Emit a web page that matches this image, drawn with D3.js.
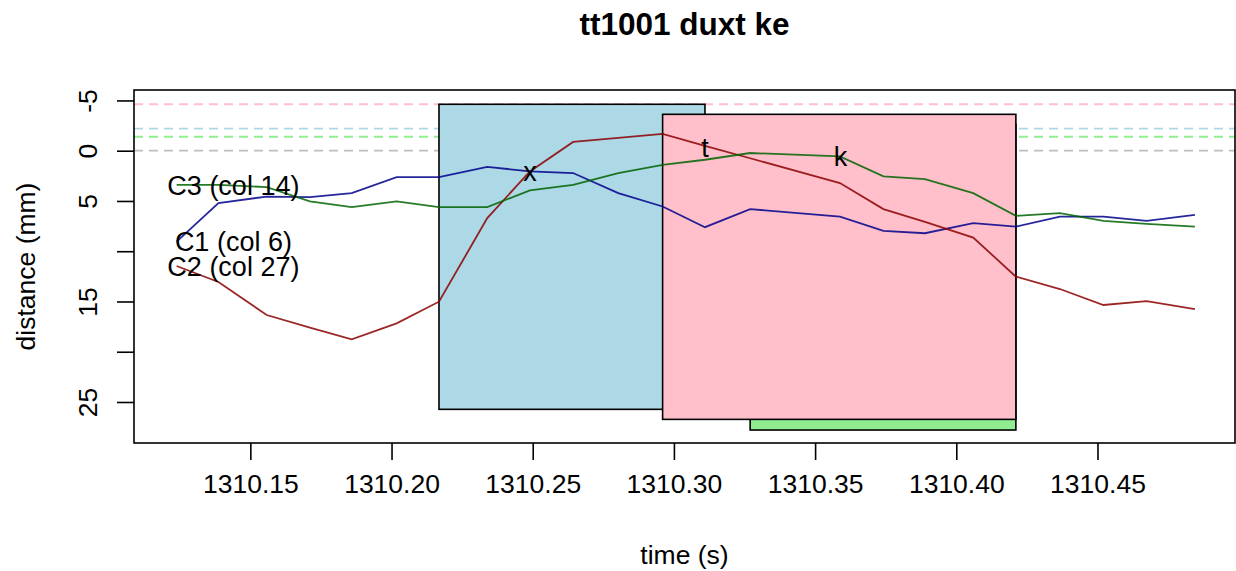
<!DOCTYPE html>
<html>
<head>
<meta charset="utf-8">
<script src="https://cdn.jsdelivr.net/npm/d3@7"></script>
<style>
  body { margin: 0; background: #fff; }
  text { font-family: "Liberation Sans", Arial, sans-serif; }
</style>
</head>
<body>
<div id="chart"></div>
<script>
// sample times (s)
const TIMES = [1310.1239, 1310.1387, 1310.1558, 1310.1711, 1310.1859, 1310.2018, 1310.2168,
  1310.2339, 1310.2490, 1310.2643, 1310.2803, 1310.2960, 1310.3110, 1310.3270, 1310.3588,
  1310.3742, 1310.3889, 1310.4060, 1310.4211, 1310.4367, 1310.4521, 1310.4674, 1310.4845];

// distances (mm)
const C1 = [9.04, 5.21, 4.56, 4.62, 4.22, 2.62, 2.62, 1.60, 2.06, 2.22, 4.22, 5.55,
  7.61, 5.81, 6.55, 7.98, 8.21, 7.21, 7.55, 6.55, 6.55, 6.98, 6.38];
const C2 = [11.47, 13.06, 16.35, 17.60, 18.77, 17.18, 15.02, 6.71, 2.06, -0.87, -1.27, -1.67,
  -0.47, 0.75, 3.22, 5.81, 7.08, 8.64, 12.53, 13.76, 15.35, 14.96, 15.75];
const C3 = [3.39, 3.39, 3.62, 5.05, 5.61, 5.05, 5.61, 5.61, 3.94, 3.39, 2.22, 1.40,
  0.90, 0.23, 0.57, 2.56, 2.82, 4.22, 6.48, 6.21, 6.98, 7.28, 7.55];

const SERIES_NAMES = ["C1 (col 6)", "C2 (col 27)", "C3 (col 14)"];
const SERIES_COLORS = ["#00008B", "#8B0000", "#006400"];
const LABEL_TIME = 1310.144;

// reference lines
const HLINE_VALUES = [-4.62, -2.19, -1.39, 0];
const HLINE_COLORS = ["#FFC0CB", "#ADD8E6", "#90EE90", "#BEBEBE"];

// interval boxes: [t0, t1, top, bottom]
const BOX_T0 = [1310.3270, 1310.2168, 1310.2960];
const BOX_T1 = [1310.4211, 1310.3110, 1310.4211];
const BOX_TOP = [-2.62, -4.62, -3.62];
const BOX_BOTTOM = [27.79, 25.73, 26.73];
const BOX_COLORS = ["#90EE90", "#ADD8E6", "#FFC0CB"];

// landmarks
const MARK_TIMES = [1310.249, 1310.311, 1310.359];
const MARK_VALUES = [2.0, -0.3, 0.57];
const MARK_LABELS = ["x", "t", "k"];

const X_TICKS = [1310.15, 1310.20, 1310.25, 1310.30, 1310.35, 1310.40, 1310.45];
const Y_TICKS = [-5, 0, 5, 10, 15, 20, 25];
const Y_TICK_LABELS = ["-5", "0", "5", "", "15", "", "25"];

const W = 1236, H = 571;
const plot = { left: 134, right: 1235, top: 90, bottom: 443 };

const x = d3.scaleLinear().domain([1310.1088, 1310.4987]).range([plot.left, plot.right]);
const y = d3.scaleLinear().domain([-6.04, 29.08]).range([plot.top, plot.bottom]);

const svg = d3.select("#chart").append("svg")
  .attr("width", W)
  .attr("height", H);

svg.append("clipPath").attr("id", "clip")
  .append("rect")
  .attr("x", plot.left).attr("y", plot.top)
  .attr("width", plot.right - plot.left).attr("height", plot.bottom - plot.top);

const g = svg.append("g").attr("clip-path", "url(#clip)");

// dashed horizontal lines
g.selectAll(".hline")
  .data(HLINE_VALUES)
  .enter()
  .append("line")
  .attr("x1", plot.left).attr("x2", plot.right)
  .attr("y1", d => y(d)).attr("y2", d => y(d))
  .attr("stroke", (d, i) => HLINE_COLORS[i])
  .attr("stroke-width", 1.8)
  .attr("stroke-dasharray", "9,6");

// boxes
g.selectAll(".box")
  .data(BOX_T0)
  .enter()
  .append("rect")
  .attr("x", (d, i) => x(d))
  .attr("y", (d, i) => y(BOX_TOP[i]))
  .attr("width", (d, i) => x(BOX_T1[i]) - x(d))
  .attr("height", (d, i) => y(BOX_BOTTOM[i]) - y(BOX_TOP[i]))
  .attr("fill", (d, i) => BOX_COLORS[i])
  .attr("stroke", "#000")
  .attr("stroke-width", 1.6);

// series lines
const line = d3.line()
  .x((d, i) => x(TIMES[i]))
  .y(d => y(d));

[C1, C2, C3].forEach((vals, k) => {
  g.append("path")
    .datum(vals)
    .attr("d", line)
    .attr("fill", "none")
    .attr("stroke", SERIES_COLORS[k])
    .attr("stroke-opacity", 0.85)
    .attr("stroke-width", 1.8);

  svg.append("text")
    .attr("x", x(LABEL_TIME))
    .attr("y", y(vals[0]))
    .attr("dy", "0.36em")
    .attr("text-anchor", "middle")
    .attr("font-size", 27)
    .attr("fill", "#000")
    .text(SERIES_NAMES[k]);
});

// landmark letters
svg.selectAll(".mark")
  .data(MARK_LABELS)
  .enter()
  .append("text")
  .attr("x", (d, i) => x(MARK_TIMES[i]))
  .attr("y", (d, i) => y(MARK_VALUES[i]))
  .attr("dy", "0.36em")
  .attr("text-anchor", "middle")
  .attr("font-size", 27)
  .text(d => d);

// frame
svg.append("rect")
  .attr("x", plot.left).attr("y", plot.top)
  .attr("width", plot.right - plot.left).attr("height", plot.bottom - plot.top)
  .attr("fill", "none")
  .attr("stroke", "#000")
  .attr("stroke-width", 1.6);

// x axis
const xAxis = svg.append("g")
  .attr("transform", `translate(0,${plot.bottom})`)
  .call(d3.axisBottom(x).tickValues(X_TICKS).tickFormat(d3.format(".2f")).tickSize(17).tickPadding(14));
xAxis.select(".domain").remove();
xAxis.selectAll("line").attr("stroke-width", 1.6);
xAxis.selectAll("text").attr("font-size", 26.5).attr("font-family", "Liberation Sans, Arial, sans-serif").attr("fill", "#000");

// y axis (labels rotated, R style)
const yAxis = svg.append("g")
  .attr("transform", `translate(${plot.left},0)`)
  .call(d3.axisLeft(y).tickValues(Y_TICKS).tickFormat((d, i) => Y_TICK_LABELS[i]).tickSize(17));
yAxis.select(".domain").remove();
yAxis.selectAll("line").attr("stroke-width", 1.6);
yAxis.selectAll("text")
  .attr("font-size", 26.5)
  .attr("font-family", "Liberation Sans, Arial, sans-serif")
  .attr("fill", "#000")
  .attr("text-anchor", "middle")
  .attr("x", 0).attr("dy", 0)
  .attr("transform", "translate(-37,0) rotate(-90)");

// titles
svg.append("text")
  .attr("x", (plot.left + plot.right) / 2)
  .attr("y", 35)
  .attr("text-anchor", "middle")
  .attr("font-size", 31.5)
  .attr("font-weight", "bold")
  .text("tt1001 duxt ke");

svg.append("text")
  .attr("x", (plot.left + plot.right) / 2)
  .attr("y", 564)
  .attr("text-anchor", "middle")
  .attr("font-size", 26.5)
  .text("time (s)");

svg.append("text")
  .attr("transform", `translate(35,${(plot.top + plot.bottom) / 2}) rotate(-90)`)
  .attr("text-anchor", "middle")
  .attr("font-size", 26.5)
  .text("distance (mm)");
</script>
</body>
</html>
